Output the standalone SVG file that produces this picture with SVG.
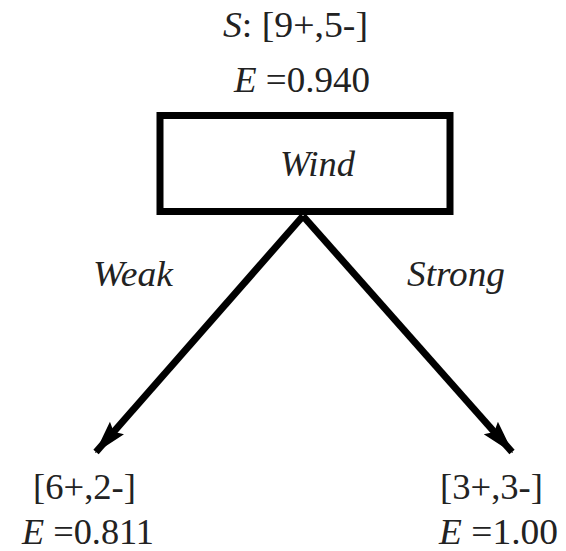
<svg xmlns="http://www.w3.org/2000/svg" width="566" height="551" viewBox="0 0 566 551">
<style>
.i{font-style:italic}
.edge{stroke:#000;stroke-width:7;fill:none}
</style>
<defs>
<marker id="ah" viewBox="0 0 10 10" refX="9.5" refY="5" markerWidth="4.8" markerHeight="3" orient="auto" markerUnits="strokeWidth" preserveAspectRatio="none">
<path d="M0,0.5 L10,5 L0,9.5 L1.5,5 z" fill="#000"/>
</marker>
</defs>
<rect width="566" height="551" fill="#fff"/>
<g font-family="Liberation Serif, DejaVu Serif, serif" font-size="36" fill="#222">
<g id="root">
<text x="223" y="37" textLength="145" lengthAdjust="spacingAndGlyphs"><tspan class="i">S</tspan>: [9+,5-]</text>
<text x="234" y="92" textLength="136" lengthAdjust="spacingAndGlyphs"><tspan class="i">E</tspan> =0.940</text>
<rect x="160" y="115.5" width="290" height="96" fill="#fff" stroke="#000" stroke-width="7"/>
<text class="i" x="280" y="176" textLength="75" lengthAdjust="spacingAndGlyphs">Wind</text>
</g>
<g id="connectors">
<line class="edge" x1="303" y1="216" x2="96" y2="452" marker-end="url(#ah)"/>
<line class="edge" x1="303" y1="216" x2="512" y2="452" marker-end="url(#ah)"/>
<text class="i" x="93" y="286" textLength="80" lengthAdjust="spacingAndGlyphs">Weak</text>
<text class="i" x="407" y="286" textLength="98" lengthAdjust="spacingAndGlyphs">Strong</text>
</g>
<g id="left">
<text x="33" y="499" textLength="103" lengthAdjust="spacingAndGlyphs">[6+,2-]</text>
<text x="22" y="544" textLength="132" lengthAdjust="spacingAndGlyphs"><tspan class="i">E</tspan> =0.811</text>
</g>
<g id="right">
<text x="440" y="499" textLength="103" lengthAdjust="spacingAndGlyphs">[3+,3-]</text>
<text x="439" y="544" textLength="119" lengthAdjust="spacingAndGlyphs"><tspan class="i">E</tspan> =1.00</text>
</g>
</g>
</svg>
